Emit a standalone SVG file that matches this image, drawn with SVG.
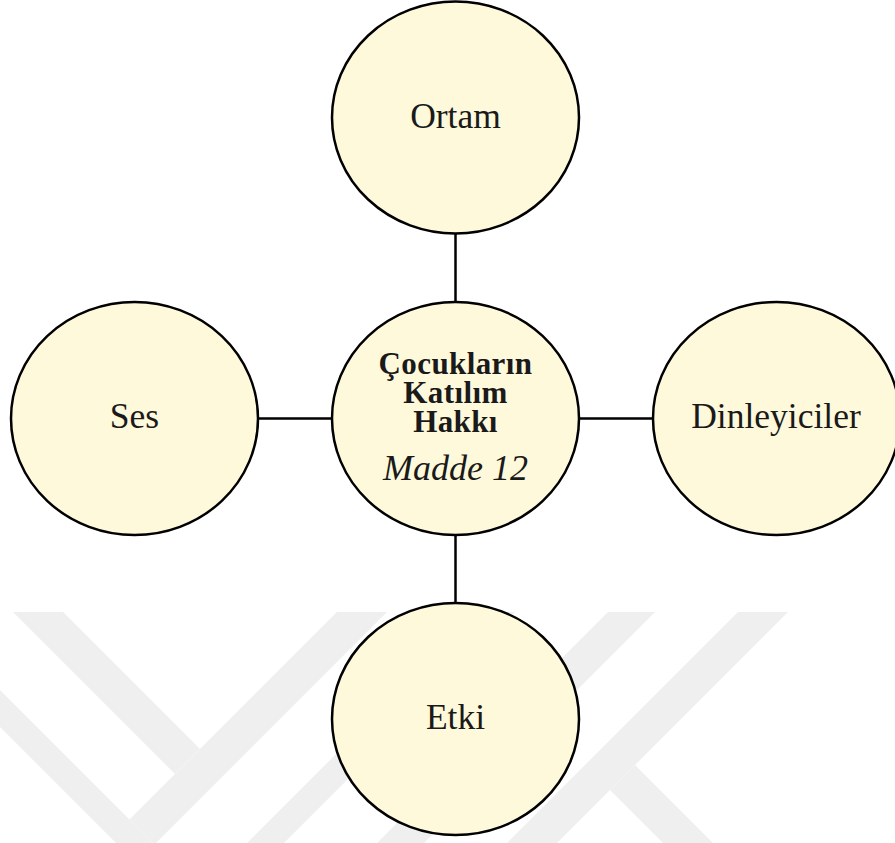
<svg xmlns="http://www.w3.org/2000/svg" width="895" height="843" viewBox="0 0 895 843">
  <style>
    .wm { fill: #efefef; }
    .node { fill: #FFF9DB; stroke: #000; stroke-width: 2.5; }
    .lbl { font-family: "Liberation Serif", "Times New Roman", serif; font-size: 35.5px; fill: #1a1a1a; text-anchor: middle; }
    .bold { font-family: "Liberation Serif", "Times New Roman", serif; font-size: 31px; font-weight: bold; fill: #1a1a1a; text-anchor: middle; letter-spacing: 0.4px; }
    .ital { font-family: "Liberation Serif", "Times New Roman", serif; font-size: 36px; font-style: italic; fill: #1a1a1a; text-anchor: middle; }
    .conn { stroke: #000; stroke-width: 2.5; fill: none; }
  </style>
  <rect x="0" y="0" width="895" height="843" fill="#ffffff"/>
  <g id="watermark">
    <polygon class="wm" points="13,612 63,612 200,749 175,774"/>
    <polygon class="wm" points="337,612 387,612 154.5,844.5 129.5,819.5"/>
    <polygon class="wm" points="0,690 200,890 478,612 515,612 200,927 0,727"/>
    <polygon class="wm" points="608,612 655,612 424,843 377,843"/>
    <polygon class="wm" points="738,612 788,612 557,843 507,843"/>
    <polygon class="wm" points="610,790 635,765 713,843 663,843"/>
  </g>
  <g id="connectors">
    <line class="conn" x1="455.5" y1="233" x2="455.5" y2="302"/>
    <line class="conn" x1="455.5" y1="535" x2="455.5" y2="603"/>
    <line class="conn" x1="258" y1="418.5" x2="332" y2="418.5"/>
    <line class="conn" x1="579" y1="418.5" x2="653" y2="418.5"/>
  </g>
  <g id="node-ortam">
    <ellipse class="node" cx="455.5" cy="117.5" rx="123.5" ry="116"/>
    <text class="lbl" x="455.5" y="128">Ortam</text>
  </g>
  <g id="node-center">
    <ellipse class="node" cx="455.5" cy="418.5" rx="123.5" ry="116.5"/>
    <text class="bold" x="455.5" y="374">Çocukların</text>
    <text class="bold" x="455.5" y="403">Katılım</text>
    <text class="bold" x="455.5" y="432">Hakkı</text>
    <text class="ital" x="455.5" y="480">Madde 12</text>
  </g>
  <g id="node-ses">
    <ellipse class="node" cx="134.5" cy="418.5" rx="123.5" ry="116.5"/>
    <text class="lbl" x="134.5" y="428">Ses</text>
  </g>
  <g id="node-dinleyiciler">
    <ellipse class="node" cx="776.5" cy="418.5" rx="123.5" ry="116.5"/>
    <text class="lbl" x="776" y="428">Dinleyiciler</text>
  </g>
  <g id="node-etki">
    <ellipse class="node" cx="455.5" cy="719" rx="123.5" ry="116"/>
    <text class="lbl" x="455.5" y="729">Etki</text>
  </g>
</svg>
